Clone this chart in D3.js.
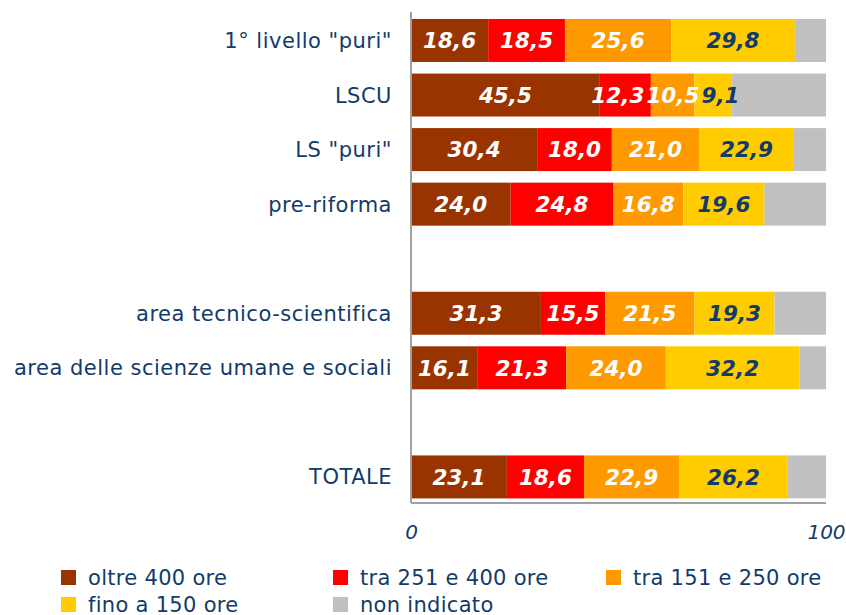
<!DOCTYPE html>
<html>
<head>
<meta charset="utf-8">
<script src="https://cdn.jsdelivr.net/npm/d3@7"></script>
<style>
  body { margin: 0; background: #fff; }
  svg { display: block; }
</style>
</head>
<body>
<div id="chart"></div>
<script>
// categories, blank entries are the gaps between groups
var categories = ['1° livello "puri"', 'LSCU', 'LS "puri"', 'pre-riforma', '',
  'area tecnico-scientifica', 'area delle scienze umane e sociali', ' ', 'TOTALE'];

var seriesNames = ['oltre 400 ore', 'tra 251 e 400 ore', 'tra 151 e 250 ore', 'fino a 150 ore', 'non indicato'];
var seriesColors = ['#993300', '#ff0000', '#ff9900', '#ffcc00', '#c0c0c0'];

var oltre400 = [18.6, 45.5, 30.4, 24.0, null, 31.3, 16.1, null, 23.1];
var tra251 = [18.5, 12.3, 18.0, 24.8, null, 15.5, 21.3, null, 18.6];
var tra151 = [25.6, 10.5, 21.0, 16.8, null, 21.5, 24.0, null, 22.9];
var fino150 = [29.8, 9.1, 22.9, 19.6, null, 19.3, 32.2, null, 26.2];
var nonIndicato = [7.5, 22.6, 7.7, 14.8, null, 12.4, 6.4, null, 9.2];

var xTicks = [0, 100];

var width = 846, height = 615;
var axisBottom = 503;

var svg = d3.select('#chart').append('svg')
  .attr('width', width)
  .attr('height', height);

var x = d3.scaleLinear()
  .domain([0, 100])
  .range([411, 826]);

var y = d3.scaleBand()
  .domain(categories)
  .range([12, 505.4])
  .paddingInner(0.212)
  .paddingOuter(0.128);

var seriesData = [oltre400, tra251, tra151, fino150, nonIndicato];

var rows = categories.map(function(c, i) {
  var row = {cat: c};
  seriesNames.forEach(function(s, j) { row[s] = seriesData[j][i] || 0; });
  return row;
}).filter(function(r) { return r.cat.trim() !== ''; });

var stack = d3.stack().keys(seriesNames);
var layers = stack(rows);

var color = d3.scaleOrdinal().domain(seriesNames).range(seriesColors);
var navy = '#123b6a';
var font = 'DejaVu Sans, Verdana, sans-serif';

var g = svg.append('g');

var layer = g.selectAll('g.layer')
  .data(layers)
  .enter().append('g')
  .attr('class', 'layer')
  .attr('fill', function(d) { return color(d.key); });

layer.selectAll('rect')
  .data(function(d) { return d; })
  .enter().append('rect')
  .attr('x', function(d) { return x(d[0]); })
  .attr('width', function(d) { return x(d[1]) - x(d[0]); })
  .attr('y', function(d) { return y(d.data.cat); })
  .attr('height', y.bandwidth());

// value labels, not on "non indicato"
var labelLayer = g.append('g');
var labels = labelLayer.selectAll('g')
  .data(layers.filter(function(d) { return d.key !== 'non indicato'; }))
  .enter().append('g')
  .selectAll('text')
  .data(function(d) { return d.map(function(p) { p.key = d.key; return p; }); })
  .enter().append('text')
  .attr('x', function(d) { return (x(d[0]) + x(d[1])) / 2; })
  .attr('y', function(d) { return y(d.data.cat) + y.bandwidth() / 2; })
  .attr('dy', '0.36em')
  .attr('text-anchor', 'middle')
  .style('font-family', font)
  .style('font-weight', 'bold')
  .style('font-style', 'italic')
  .style('font-size', '21.5px')
  .attr('fill', function(d) { return d.key === 'fino a 150 ore' ? navy : '#ffffff'; })
  .text(function(d) { return d3.format('.1f')(d[1] - d[0]).replace('.', ','); });

// push apart labels that collide inside the same bar
rows.forEach(function(r) {
  var items = [];
  labels.filter(function(d) { return d.data.cat === r.cat; }).each(function(d) {
    items.push({node: this, cx: +this.getAttribute('x'), w: this.getComputedTextLength()});
  });
  for (var iter = 0; iter < 20; iter++) {
    for (var i = 0; i < items.length - 1; i++) {
      var a = items[i], b = items[i + 1];
      var overlap = (a.cx + a.w / 2 + 2) - (b.cx - b.w / 2);
      if (overlap > 0) {
        a.cx -= overlap / 2;
        b.cx += overlap / 2;
      }
    }
  }
  items.forEach(function(it) { it.node.setAttribute('x', it.cx); });
});

// category labels
g.selectAll('text.cat')
  .data(rows)
  .enter().append('text')
  .attr('class', 'cat')
  .attr('x', 392)
  .attr('y', function(d) { return y(d.cat) + y.bandwidth() / 2; })
  .attr('dy', '0.36em')
  .attr('text-anchor', 'end')
  .style('font-family', font)
  .style('font-size', '21px')
  .style('letter-spacing', '0.5px')
  .attr('fill', navy)
  .text(function(d) { return d.cat; });

// axes lines
g.append('line')
  .attr('x1', x(0)).attr('x2', x(0))
  .attr('y1', 12).attr('y2', axisBottom)
  .attr('stroke', '#a0a0a0').attr('stroke-width', 2);
g.append('line')
  .attr('x1', x(0)).attr('x2', x(100))
  .attr('y1', axisBottom).attr('y2', axisBottom)
  .attr('stroke', '#a0a0a0').attr('stroke-width', 2);

var xAxis = d3.axisBottom(x).tickValues(xTicks).tickSize(0).tickPadding(22);
var ax = g.append('g')
  .attr('transform', 'translate(0,' + axisBottom + ')')
  .call(xAxis);
ax.select('.domain').remove();
ax.selectAll('text')
  .style('font-family', font)
  .style('font-style', 'italic')
  .style('font-size', '20px')
  .attr('fill', navy);

// legend
var legendPos = [[61, 570], [333, 570], [606, 570], [61, 597], [333, 597]];
var legend = svg.selectAll('g.legend')
  .data(seriesNames)
  .enter().append('g')
  .attr('class', 'legend')
  .attr('transform', function(d, i) { return 'translate(' + legendPos[i][0] + ',' + legendPos[i][1] + ')'; });
legend.append('rect')
  .attr('width', 15).attr('height', 15)
  .attr('fill', function(d) { return color(d); });
legend.append('text')
  .attr('x', 27)
  .attr('y', 7)
  .attr('dy', '0.36em')
  .style('font-family', font)
  .style('font-size', '21px')
  .style('letter-spacing', '0.3px')
  .attr('fill', navy)
  .text(function(d) { return d; });
</script>
</body>
</html>
